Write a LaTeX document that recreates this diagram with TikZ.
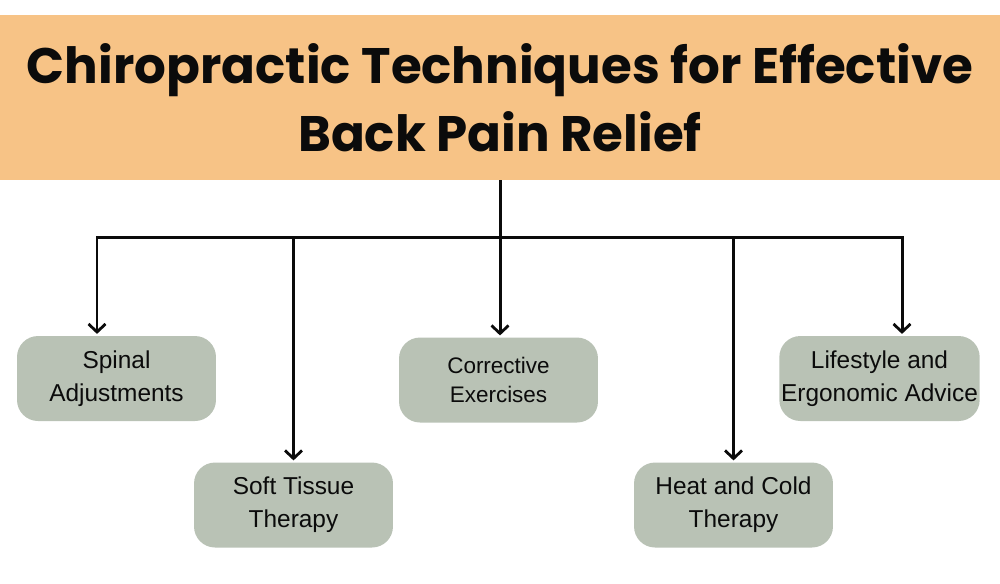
\documentclass[tikz,border=0pt]{standalone}
\usepackage{fontspec}
\setmainfont{Liberation Sans}
\newfontfamily\titlefont{Poppins}
\usepackage{xcolor}
\usepackage{tikz}
\usetikzlibrary{positioning,arrows.meta}
\definecolor{peach}{HTML}{F7C386}
\definecolor{sage}{HTML}{B9C2B5}
\definecolor{ink}{HTML}{0B0B0B}
\tikzset{
  banner/.style  ={fill=peach, draw=none, align=center, text=ink,
                   font=\titlefont\bfseries\fontsize{28.4}{38.6}\selectfont,
                   minimum width=20cm, minimum height=3.3cm, inner sep=0pt},
  tech/.style    ={rounded corners=0.42cm, fill=sage, draw=none, align=center, text=ink,
                   font=\fontsize{13.9}{18.7}\selectfont, minimum width=3.98cm, minimum height=1.7cm, inner sep=1pt},
  techsmall/.style={tech, font=\fontsize{12.8}{17}\selectfont},
  flowarr/.style ={-{Straight Barb[length=1.6mm, width=3.4mm, line width=1.6pt]}, line width=1.7pt, ink},
}
\begin{document}
\begin{tikzpicture}[x=0.02cm, y=-0.02cm]
\useasboundingbox (0,0) rectangle (1000,583);
\node[banner] (title) at (500,97.5) {Chiropractic Techniques for Effective\\Back Pain Relief};
\coordinate (hub) at (500,237);

\node[tech] (spinal) at (116.5,378.5) {Spinal\\Adjustments};
\node[tech] (soft) at (293.5,505) {Soft Tissue\\Therapy};
\node[techsmall] (corr) at (498.5,380) {Corrective\\Exercises};
\node[tech] (heat) at (733.5,505) {Heat and Cold\\Therapy};
\node[tech] (life) at (879.5,378.5) {Lifestyle and\\Ergonomic Advice};

\draw[line width=1.7pt, ink] (title.south) -- (hub);
\draw[flowarr] (hub) -| ([xshift=-0.39cm, yshift=1pt]spinal.north);
\draw[flowarr] (hub) -| ([yshift=1pt]soft.north);
\draw[flowarr] (hub) -| ([xshift=0.03cm, yshift=1pt]corr.north);
\draw[flowarr] (hub) -| ([yshift=1pt]heat.north);
\draw[flowarr] (hub) -| ([xshift=0.45cm, yshift=1pt]life.north);
\end{tikzpicture}
\end{document}
